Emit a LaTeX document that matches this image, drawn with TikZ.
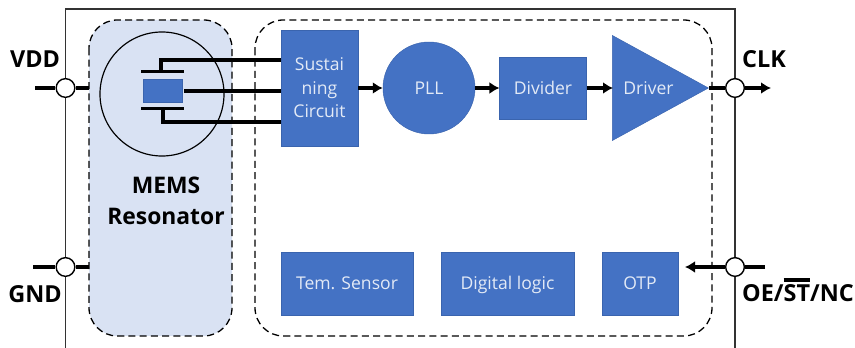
\documentclass[tikz,border=0pt]{standalone}
\usepackage{fontspec}
\setmainfont{Open Sans}
\usetikzlibrary{arrows.meta}
\usetikzlibrary{shapes.geometric}
\definecolor{blockblue}{HTML}{4472C4}
\definecolor{blockedge}{HTML}{3A64AE}
\definecolor{memsfill}{HTML}{D9E2F3}
\definecolor{blocktext}{HTML}{E3EAF6}
\tikzset{
  block/.style={rectangle,draw=blockedge,fill=blockblue,text=blocktext,font=\fontsize{15}{20}\selectfont,align=center,inner sep=0pt},
  oneline/.style={block,text height=14pt,text depth=3.3pt},
  pin/.style={circle,draw,fill=white,line width=1.2pt,minimum size=.56cm,inner sep=0pt},
  pinlabel/.style={font=\fontsize{20}{24}\selectfont\bfseries,inner sep=0pt},
  wire/.style={line width=2.6pt},
  region/.style={dash pattern=on 6pt off 3.6pt,line width=1.1pt,rounded corners=.85cm},
}
\newcommand{\barst}{\leavevmode\vbox{\hrule height 2.6pt\kern 3pt\hbox{ST}}}
\begin{document}
\begin{tikzpicture}[>={Latex[length=.3cm,width=.36cm]},x=.03cm,y=-.03cm]
\useasboundingbox (0,0) rectangle (855,348);
\draw[line width=1.1pt,draw=black!80] (65.5,348) -- (65.5,9) -- (735,9) -- (735,348);

\draw[region,fill=memsfill] (89,20) rectangle (232,336);
\draw[region] (255,20) rectangle (712,336);
\node[circle,draw,line width=1pt,minimum size=3.72cm,inner sep=0pt](res) at (162,94) {};
\node[pinlabel,font=\fontsize{19.5}{26}\selectfont\bfseries,align=center](mems) at (166,201) {MEMS\\Resonator};

\node[block,minimum width=2.31cm,minimum height=3.48cm](sust) at (319.5,88) {Sustai\\ning\\Circuit};
\node[oneline,circle,minimum size=2.76cm](pll) at (429,88) {PLL};
\node[oneline,minimum width=2.6cm,minimum height=1.86cm](div) at (543,88) {Divider};
\node[block,isosceles triangle,isosceles triangle stretches,minimum width=3.15cm,minimum height=2.88cm,anchor=apex](drv) at (709,88) {Driver};
\node[oneline,minimum width=3.96cm,minimum height=1.89cm](temp) at (347,283.5) {Tem. Sensor};
\node[oneline,minimum width=3.99cm,minimum height=1.89cm](logic) at (507.5,283.5) {Digital logic};
\node[oneline,minimum width=2.28cm,minimum height=1.89cm](otp) at (640,283.5) {OTP};

% resonator
\node[block,minimum width=1.17cm,minimum height=.69cm](xtal) at (162.5,90.5) {};
\node[fill=black,minimum width=1.29cm,minimum height=.09cm,inner sep=0pt](ptop) at (162.5,72) {};
\node[fill=black,minimum width=1.29cm,minimum height=.09cm,inner sep=0pt](pbot) at (162.5,109) {};
\coordinate (s1) at (281,60);
\coordinate (s2) at (281,91);
\coordinate (s3) at (281,122);
\coordinate (x1) at (161,72);
\coordinate (x2) at (184,91);
\coordinate (x3) at (163,109);
\coordinate (drvin) at (613,88);
\draw[wire] (x1) |- (s1);
\draw[wire] (x2) -- (s2);
\draw[wire] (x3) |- (s3);

\draw[->,wire] (sust.east) -- (pll.west);
\draw[->,wire] (pll.east) -- (div.west);
\draw[->,wire] (div.east) -- (drvin);

% pins
\node[pin](vdd) at (65.5,88) {};
\node[pin](gnd) at (65.5,267) {};
\node[pin](clk) at (735,88) {};
\node[pin](oe) at (735,267) {};
\coordinate (vddl) at (35,88);
\coordinate (vddr) at (89,88);
\coordinate (gndl) at (33,267);
\coordinate (gndr) at (89,267);
\coordinate (clko) at (771,88);
\coordinate (oer) at (765,267);
\coordinate (oeo) at (685,267);
\draw[wire] (vddl) -- (vdd);
\draw[wire] (vdd) -- (vddr);
\draw[wire] (gndl) -- (gnd);
\draw[wire] (gnd) -- (gndr);
\draw[wire] (drv.apex) -- (clk);
\draw[->,wire] (clk) -- (clko);
\draw[wire] (oer) -- (oe);
\draw[->,wire] (oe) -- (oeo);

\node[pinlabel](vddt) at (35,59) {VDD};
\node[pinlabel](gndt) at (35,294) {GND};
\node[pinlabel](clkt) at (764,59) {CLK};
\node[pinlabel,anchor=base](oet) at (798,302) {OE/\barst/NC};
\end{tikzpicture}
\end{document}
